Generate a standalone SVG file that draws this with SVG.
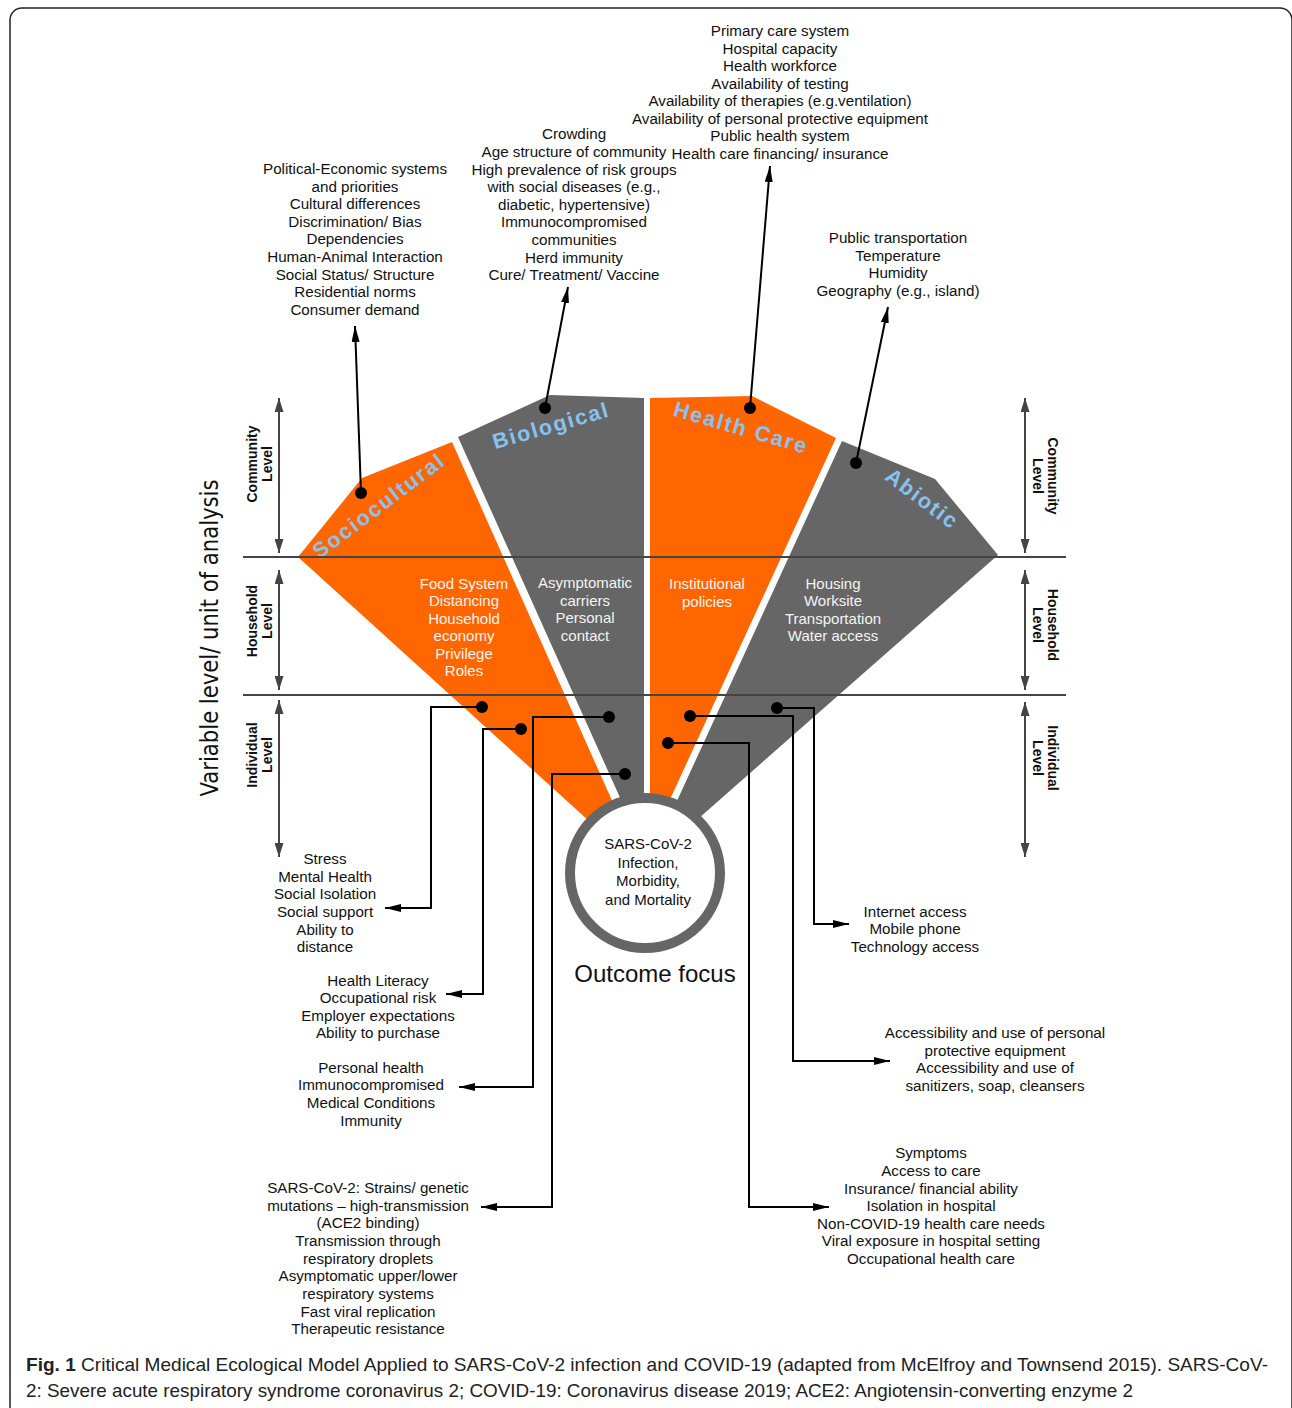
<svg xmlns="http://www.w3.org/2000/svg" width="1292" height="1408" viewBox="0 0 1292 1408">
<defs>
<style>
.t{font-family:"Liberation Sans",Arial,sans-serif;font-size:15.2px;fill:#111;text-anchor:middle}
.w{font-family:"Liberation Sans",Arial,sans-serif;font-size:15px;fill:#f4f4f4;text-anchor:middle}
.lab{font-family:"Liberation Sans",Arial,sans-serif;font-size:21.5px;font-weight:bold;fill:#88c2f0;text-anchor:middle;letter-spacing:1.8px}
.lv{font-family:"Liberation Sans",Arial,sans-serif;font-size:14px;font-weight:bold;fill:#111;text-anchor:middle}
.con{fill:none;stroke:#000;stroke-width:2}
.lvl{stroke:#444;stroke-width:2;fill:none}
.orange{fill:#ff6600}
.grey{fill:#666666}
</style>
<marker id="ah" viewBox="0 0 16 8" refX="16" refY="4" markerWidth="16" markerHeight="8" markerUnits="userSpaceOnUse" orient="auto"><path d="M0,0 L16,4 L0,8 z" fill="#000"/></marker>
<marker id="la" viewBox="0 0 14 9" refX="14" refY="4.5" markerWidth="14" markerHeight="9" markerUnits="userSpaceOnUse" orient="auto-start-reverse"><path d="M0,0 L14,4.5 L0,9 z" fill="#444"/></marker>
</defs>
<rect x="10" y="8" width="1282" height="1460" rx="12" fill="#fff" stroke="#222" stroke-width="1.5"/>

<!-- wedges -->
<g id="sociocultural">
<polygon class="orange" points="298,557 362,478 452,442 643,870"/>
<text class="lab" transform="translate(379,506) rotate(-37)" y="7">Sociocultural</text>
<text class="w"><tspan x="464" y="589">Food System</tspan><tspan x="464" y="606">Distancing</tspan><tspan x="464" y="624">Household</tspan><tspan x="464" y="641">economy</tspan><tspan x="464" y="659">Privilege</tspan><tspan x="464" y="676">Roles</tspan></text>
</g>
<g id="biological">
<polygon class="grey" points="458,437 550,395 644,398 644,860 648,860"/>
<text class="lab" transform="translate(551,426) rotate(-16)" y="7">Biological</text>
<text class="w"><tspan x="585" y="588">Asymptomatic</tspan><tspan x="585" y="606">carriers</tspan><tspan x="585" y="623">Personal</tspan><tspan x="585" y="641">contact</tspan></text>
</g>
<g id="healthcare">
<polygon class="orange" points="650,398 752,396 836,438 650,843"/>
<text class="lab" transform="translate(741,428) rotate(16)" y="7">Health Care</text>
<text class="w"><tspan x="707" y="589">Institutional</tspan><tspan x="707" y="607">policies</tspan></text>
</g>
<g id="abiotic">
<polygon class="grey" points="842,441 935,479 998,555 649,862"/>
<text class="lab" transform="translate(922,499) rotate(37)" y="7">Abiotic</text>
<text class="w"><tspan x="833" y="589">Housing</tspan><tspan x="833" y="606">Worksite</tspan><tspan x="833" y="624">Transportation</tspan><tspan x="833" y="641">Water access</tspan></text>
</g>

<!-- level lines -->
<g id="levels">
<line x1="243" y1="557" x2="1066" y2="557" stroke="#444" stroke-width="2"/>
<line x1="243" y1="695" x2="1066" y2="695" stroke="#444" stroke-width="2"/>
<line class="lvl" x1="279" y1="398" x2="279" y2="553" marker-start="url(#la)" marker-end="url(#la)"/>
<line class="lvl" x1="279" y1="570" x2="279" y2="690" marker-start="url(#la)" marker-end="url(#la)"/>
<line class="lvl" x1="279" y1="700" x2="279" y2="857" marker-start="url(#la)" marker-end="url(#la)"/>
<line class="lvl" x1="1025" y1="398" x2="1025" y2="553" marker-start="url(#la)" marker-end="url(#la)"/>
<line class="lvl" x1="1025" y1="570" x2="1025" y2="690" marker-start="url(#la)" marker-end="url(#la)"/>
<line class="lvl" x1="1025" y1="702" x2="1025" y2="857" marker-start="url(#la)" marker-end="url(#la)"/>
<text class="lv" transform="translate(257,464) rotate(-90)"><tspan x="0" y="0">Community</tspan><tspan x="0" y="15">Level</tspan></text>
<text class="lv" transform="translate(257,621) rotate(-90)"><tspan x="0" y="0">Household</tspan><tspan x="0" y="15">Level</tspan></text>
<text class="lv" transform="translate(257,755) rotate(-90)"><tspan x="0" y="0">Individual</tspan><tspan x="0" y="15">Level</tspan></text>
<text class="lv" transform="translate(1048,476) rotate(90)"><tspan x="0" y="0">Community</tspan><tspan x="0" y="15">Level</tspan></text>
<text class="lv" transform="translate(1048,625) rotate(90)"><tspan x="0" y="0">Household</tspan><tspan x="0" y="15">Level</tspan></text>
<text class="lv" transform="translate(1048,758) rotate(90)"><tspan x="0" y="0">Individual</tspan><tspan x="0" y="15">Level</tspan></text>
<text transform="translate(218,638) rotate(-90)" font-family="'DejaVu Sans','Liberation Sans',sans-serif" font-size="24" fill="#111" text-anchor="middle" textLength="317" lengthAdjust="spacingAndGlyphs">Variable level/ unit of analysis</text>
</g>

<g id="outcome">
<circle cx="645" cy="873" r="75" fill="#fff" stroke="#666" stroke-width="10"/>
<text font-family="'Liberation Sans',Arial,sans-serif" font-size="15" fill="#111" text-anchor="middle"><tspan x="648" y="849">SARS-CoV-2</tspan><tspan x="648" y="868">Infection,</tspan><tspan x="648" y="886">Morbidity,</tspan><tspan x="648" y="905">and Mortality</tspan></text>
<text x="655" y="982" font-family="'Liberation Sans',Arial,sans-serif" font-size="24" fill="#111" text-anchor="middle">Outcome focus</text>
</g>

<!-- lists -->
<g id="list-sociocultural">
<text class="t"><tspan x="355" y="174">Political-Economic systems</tspan><tspan x="355" y="192">and priorities</tspan><tspan x="355" y="209">Cultural differences</tspan><tspan x="355" y="227">Discrimination/ Bias</tspan><tspan x="355" y="244">Dependencies</tspan><tspan x="355" y="262">Human-Animal Interaction</tspan><tspan x="355" y="280">Social Status/ Structure</tspan><tspan x="355" y="297">Residential norms</tspan><tspan x="355" y="315">Consumer demand</tspan></text>
</g>
<g id="list-biological">
<text class="t"><tspan x="574" y="139">Crowding</tspan><tspan x="574" y="157">Age structure of community</tspan><tspan x="574" y="175">High prevalence of risk groups</tspan><tspan x="574" y="192">with social diseases (e.g.,</tspan><tspan x="574" y="210">diabetic, hypertensive)</tspan><tspan x="574" y="227">Immunocompromised</tspan><tspan x="574" y="245">communities</tspan><tspan x="574" y="263">Herd immunity</tspan><tspan x="574" y="280">Cure/ Treatment/ Vaccine</tspan></text>
</g>
<g id="list-healthcare">
<text class="t"><tspan x="780" y="36">Primary care system</tspan><tspan x="780" y="54">Hospital capacity</tspan><tspan x="780" y="71">Health workforce</tspan><tspan x="780" y="89">Availability of testing</tspan><tspan x="780" y="106">Availability of therapies (e.g.ventilation)</tspan><tspan x="780" y="124">Availability of personal protective equipment</tspan><tspan x="780" y="141">Public health system</tspan><tspan x="780" y="159">Health care financing/ insurance</tspan></text>
</g>
<g id="list-abiotic">
<text class="t"><tspan x="898" y="243">Public transportation</tspan><tspan x="898" y="261">Temperature</tspan><tspan x="898" y="278">Humidity</tspan><tspan x="898" y="296">Geography (e.g., island)</tspan></text>
</g>
<g id="list-stress">
<text class="t"><tspan x="325" y="864">Stress</tspan><tspan x="325" y="882">Mental Health</tspan><tspan x="325" y="899">Social Isolation</tspan><tspan x="325" y="917">Social support</tspan><tspan x="325" y="935">Ability to</tspan><tspan x="325" y="952">distance</tspan></text>
</g>
<g id="list-literacy">
<text class="t"><tspan x="378" y="986">Health Literacy</tspan><tspan x="378" y="1003">Occupational risk</tspan><tspan x="378" y="1021">Employer expectations</tspan><tspan x="378" y="1038">Ability to purchase</tspan></text>
</g>
<g id="list-personal">
<text class="t"><tspan x="371" y="1073">Personal health</tspan><tspan x="371" y="1090">Immunocompromised</tspan><tspan x="371" y="1108">Medical Conditions</tspan><tspan x="371" y="1126">Immunity</tspan></text>
</g>
<g id="list-virus">
<text class="t"><tspan x="368" y="1193">SARS-CoV-2:  Strains/ genetic</tspan><tspan x="368" y="1211">mutations – high-transmission</tspan><tspan x="368" y="1228">(ACE2 binding)</tspan><tspan x="368" y="1246">Transmission through</tspan><tspan x="368" y="1264">respiratory droplets</tspan><tspan x="368" y="1281">Asymptomatic upper/lower</tspan><tspan x="368" y="1299">respiratory systems</tspan><tspan x="368" y="1317">Fast viral replication</tspan><tspan x="368" y="1334">Therapeutic resistance</tspan></text>
</g>
<g id="list-internet">
<text class="t"><tspan x="915" y="917">Internet access</tspan><tspan x="915" y="934">Mobile phone</tspan><tspan x="915" y="952">Technology access</tspan></text>
</g>
<g id="list-ppe">
<text class="t"><tspan x="995" y="1038">Accessibility and use of personal</tspan><tspan x="995" y="1056">protective equipment</tspan><tspan x="995" y="1073">Accessibility and use of</tspan><tspan x="995" y="1091">sanitizers, soap, cleansers</tspan></text>
</g>
<g id="list-symptoms">
<text class="t"><tspan x="931" y="1158">Symptoms</tspan><tspan x="931" y="1176">Access to care</tspan><tspan x="931" y="1194">Insurance/ financial ability</tspan><tspan x="931" y="1211">Isolation in hospital</tspan><tspan x="931" y="1229">Non-COVID-19 health care needs</tspan><tspan x="931" y="1246">Viral exposure in hospital setting</tspan><tspan x="931" y="1264">Occupational health care</tspan></text>
</g>

<!-- connectors -->
<g id="connectors">
<line class="con" x1="361" y1="493" x2="355" y2="326" marker-end="url(#ah)"/>
<line class="con" x1="545" y1="408" x2="568" y2="287" marker-end="url(#ah)"/>
<line class="con" x1="750" y1="408" x2="770" y2="166" marker-end="url(#ah)"/>
<line class="con" x1="856" y1="463" x2="888" y2="307" marker-end="url(#ah)"/>
<polyline class="con" points="482,707 431,707 431,908 385,908" marker-end="url(#ah)"/>
<polyline class="con" points="521,729 483,729 483,994 446,994" marker-end="url(#ah)"/>
<polyline class="con" points="609,717 533,717 533,1087 459,1087" marker-end="url(#ah)"/>
<polyline class="con" points="625,774 552,774 552,1207 481,1207" marker-end="url(#ah)"/>
<polyline class="con" points="777,708 814,708 814,924 849,924" marker-end="url(#ah)"/>
<polyline class="con" points="690,716 793,716 793,1061 890,1061" marker-end="url(#ah)"/>
<polyline class="con" points="668,743 749,743 749,1207 829,1207" marker-end="url(#ah)"/>
<g fill="#000">
<circle cx="361" cy="493" r="6"/><circle cx="545" cy="408" r="6"/><circle cx="750" cy="408" r="6"/><circle cx="856" cy="463" r="6"/>
<circle cx="482" cy="707" r="6"/><circle cx="521" cy="729" r="6"/><circle cx="609" cy="717" r="6"/><circle cx="625" cy="774" r="6"/>
<circle cx="777" cy="708" r="6"/><circle cx="690" cy="716" r="6"/><circle cx="668" cy="743" r="6"/>
</g>
</g>

<!-- caption -->
<g id="caption" font-family="'Liberation Sans',Arial,sans-serif" font-size="18.5" fill="#222">
<text x="26" y="1371" textLength="1242" lengthAdjust="spacingAndGlyphs"><tspan font-weight="bold">Fig. 1</tspan> Critical Medical Ecological Model Applied to SARS-CoV-2 infection and COVID-19 (adapted from McElfroy and Townsend 2015). SARS-CoV-</text>
<text x="26" y="1397" textLength="1107" lengthAdjust="spacingAndGlyphs">2: Severe acute respiratory syndrome coronavirus 2; COVID-19: Coronavirus disease 2019; ACE2: Angiotensin-converting enzyme 2</text>
</g>
</svg>
